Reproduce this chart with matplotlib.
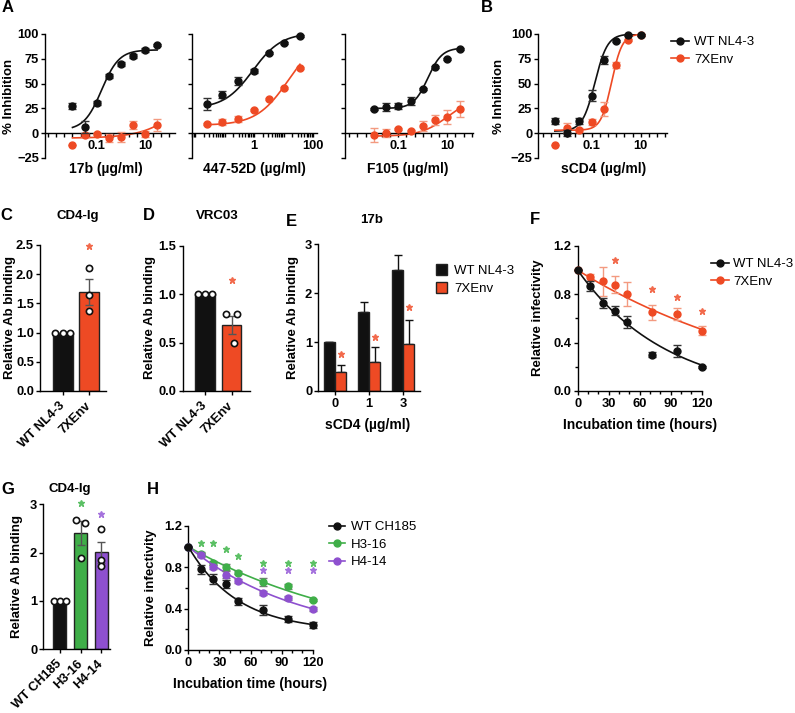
import numpy as np
import matplotlib
matplotlib.use('Agg')
import matplotlib.pyplot as plt
from matplotlib.ticker import FixedLocator, FixedFormatter, MultipleLocator, NullFormatter
from matplotlib.lines import Line2D
from matplotlib.patches import Patch

plt.rcParams['font.family'] = ['Liberation Sans', 'DejaVu Sans']
plt.rcParams['font.weight'] = 'bold'
plt.rcParams['font.size'] = 9.3
plt.rcParams['axes.linewidth'] = 1.0
plt.rcParams['xtick.major.width'] = 1.0
plt.rcParams['ytick.major.width'] = 1.0
plt.rcParams['xtick.minor.width'] = 1.0
plt.rcParams['ytick.minor.width'] = 1.0
plt.rcParams['xtick.major.size'] = 3.2
plt.rcParams['ytick.major.size'] = 3.2
plt.rcParams['xtick.minor.size'] = 2.5
plt.rcParams['ytick.minor.size'] = 2.5
plt.rcParams['xtick.major.pad'] = 2
plt.rcParams['ytick.major.pad'] = 1.2

BLACK = '#111111'
ORANGE = '#EE4A24'
ORANGE_ERR = '#F39A80'
ORANGE_STAR = '#F26A4C'
GREEN = '#3FAE48'
GREEN_STAR = '#5CC065'
PURPLE = '#8E50CF'
PURPLE_STAR = '#A572DD'

# ---- A / B: % inhibition (ug/ml) ----
x_17b = [0.01, 0.0316, 0.1, 0.316, 1, 3.16, 10, 31.6]
wt_17b = [27, 6, 30, 58, 70, 78, 84, 89]
wt_17b_err = [3, 6, 2, 2, 2, 2, 2, 1]
mut_17b = [-12, -2, -1, -5, -4, 8, -1, 8]
mut_17b_err = [0, 2, 1, 4, 5, 4, 3, 6]
fit_wt_17b = (3, 84, 0.16, 1.2)        # bottom, top, EC50, hill
fit_mut_17b = (-5, 100, 1584, 0.5)

x_447 = [0.025, 0.085, 0.28, 1.0, 3.2, 10.5, 36]
wt_447 = [29, 39, 53, 63, 81, 91, 98]
wt_447_err = [6, 4, 4, 2, 1, 1, 1]
mut_447 = [9, 11, 14, 23, 34, 46, 66]
mut_447_err = [1, 3, 3, 1, 1, 1, 1]
fit_wt_447 = (25, 101, 0.9, 0.9)
fit_mut_447 = (8, 100, 15, 0.8)

x_f105 = [0.01, 0.0316, 0.1, 0.316, 1, 3.16, 10, 31.6]
wt_f105 = [24, 26, 27, 32, 45, 67, 75, 85]
wt_f105_err = [1, 4, 3, 4, 1, 1, 1, 1]
mut_f105 = [-2, 0, 4, 2, 7, 13, 16, 24]
mut_f105_err = [7, 4, 1, 1, 5, 5, 7, 8]
fit_wt_f105 = (25, 86, 1.6, 1.5)
fit_mut_f105 = (-3, 36, 10, 0.8)

x_scd4 = [0.00316, 0.01, 0.0316, 0.1, 0.316, 1, 3.16, 10]
wt_scd4 = [12, 0, 12, 38, 74, 93, 99, 99]
wt_scd4_err = [3, 3, 3, 6, 4, 1, 1, 1]
mut_scd4 = [-12, 5, 3, 11, 24, 69, 94, 99]
mut_scd4_err = [0, 5, 2, 3, 7, 3, 1, 1]
fit_wt_scd4 = (2, 100, 0.136, 1.7)
fit_mut_scd4 = (3, 100, 0.65, 2.0)

# ---- C / D: relative Ab binding ----
nl43_groups = ['WT NL4-3', '7XEnv']
cd4ig_mean = [1.0, 1.70]
cd4ig_sem = [0, 0.22]
cd4ig_pts = [[1.0, 1.0, 1.0], [2.11, 1.64, 1.37]]
vrc03_mean = [1.0, 0.68]
vrc03_sem = [0, 0.09]
vrc03_pts = [[1.0, 1.0, 1.0], [0.79, 0.79, 0.50]]

# ---- E: 17b binding vs sCD4 ----
scd4_doses = ['0', '1', '3']
e_wt = [1.0, 1.61, 2.47]
e_wt_err = [0, 0.21, 0.31]
e_mut = [0.38, 0.59, 0.96]
e_mut_err = [0.15, 0.31, 0.49]
e_stars = [0.76, 1.10, 1.72]

# ---- F: infectivity decay NL4-3 ----
hours = [0, 12, 24, 36, 48, 72, 96, 120]
f_wt = [1.0, 0.87, 0.73, 0.665, 0.57, 0.30, 0.33, 0.20]
f_wt_err = [0, 0.04, 0.04, 0.04, 0.05, 0.02, 0.05, 0.01]
f_mut = [1.0, 0.94, 0.91, 0.88, 0.80, 0.65, 0.635, 0.50]
f_mut_err = [0, 0.03, 0.12, 0.07, 0.10, 0.06, 0.05, 0.04]
fit_f_wt = (1.0, -0.05, 0.0115)        # Y0, plateau, K
fit_f_mut = (1.0, -0.12, 0.0048)
f_star_hours = [36, 72, 96, 120]
f_star_y = [1.08, 0.84, 0.78, 0.66]

# ---- G: CD4-Ig binding CH185 ----
ch185_groups = ['WT CH185', 'H3-16', 'H4-14']
g_mean = [1.0, 2.40, 2.01]
g_sem = [0, 0.25, 0.22]
g_pts = [[1.0, 1.0, 1.0], [2.68, 2.62, 1.88], [2.48, 1.85, 1.72]]
g_stars = [None, 3.03, 2.79]

# ---- H: infectivity decay CH185 ----
h_wt = [1.0, 0.78, 0.69, 0.64, 0.47, 0.39, 0.30, 0.24]
h_wt_err = [0, 0.04, 0.05, 0.04, 0.03, 0.05, 0.03, 0.03]
h_316 = [1.0, 0.93, 0.845, 0.80, 0.75, 0.655, 0.615, 0.485]
h_316_err = [0, 0.02, 0.02, 0.03, 0.01, 0.04, 0.02, 0.01]
h_414 = [1.0, 0.92, 0.80, 0.73, 0.67, 0.55, 0.505, 0.40]
h_414_err = [0, 0.02, 0.02, 0.03, 0.02, 0.02, 0.02, 0.02]
fit_h_wt = (1.0, 0.18, 0.021)
fit_h_316 = (1.0, 0.0, 0.0058)
fit_h_414 = (1.0, 0.10, 0.0092)
h_star_green_hours = [12, 24, 36, 48, 72, 96, 120]
h_star_green_y = [1.04, 1.04, 0.975, 0.91, 0.845, 0.845, 0.845]
h_star_purple_hours = [72, 96, 120]
h_star_purple_y = [0.77, 0.77, 0.77]

W, H = 795, 713
fig = plt.figure(figsize=(W / 100, H / 100), dpi=100)


def place(x0, y0, x1, y1):
    return fig.add_axes([x0 / W, 1 - y1 / H, (x1 - x0) / W, (y1 - y0) / H])


def ftext(x, y, s, **kw):
    kw.setdefault('ha', 'center')
    kw.setdefault('va', 'center')
    fig.text(x / W, 1 - y / H, s, **kw)


def hill(x, bottom, top, ec50, slope):
    x = np.asarray(x, float)
    return bottom + (top - bottom) / (1 + (ec50 / x) ** slope)


def decay(t, y0, plateau, k):
    t = np.asarray(t, float)
    return (y0 - plateau) * np.exp(-k * t) + plateau


def clean(ax):
    ax.spines['top'].set_visible(False)
    ax.spines['right'].set_visible(False)
    ax.patch.set_alpha(0)


def stars(ax, x, y, color, ms=5):
    ax.plot(x, y, '*', color=color, ms=ms, clip_on=False, zorder=6)


def dose_panel(ax, x, wt, wt_e, mut, mut_e, fwt, fmut, xlim, majors, minors):
    clean(ax)
    ax.set_xscale('log')
    ax.set_xlim(*xlim)
    ax.set_ylim(-25, 100)
    ax.spines['bottom'].set_position(('data', 0))
    xs = np.logspace(np.log10(x[0]), np.log10(x[-1]), 200)
    ax.plot(xs, hill(xs, *fwt), color=BLACK, lw=1.2, zorder=2)
    ax.plot(xs, hill(xs, *fmut), color=ORANGE, lw=1.2, zorder=2)
    ax.errorbar(x, wt, yerr=wt_e, fmt='o', color=BLACK, ms=5, ecolor='#333333',
                elinewidth=1, capsize=3, zorder=4, clip_on=False)
    ax.errorbar(x, mut, yerr=mut_e, fmt='o', color=ORANGE, ms=5, ecolor=ORANGE_ERR,
                elinewidth=1, capsize=3, zorder=3, clip_on=False)
    ax.xaxis.set_major_locator(FixedLocator(majors))
    ax.xaxis.set_major_formatter(FixedFormatter([('%g' % m) for m in majors]))
    ax.xaxis.set_minor_locator(FixedLocator(minors))
    ax.xaxis.set_minor_formatter(NullFormatter())
    ax.yaxis.set_major_locator(FixedLocator([-25, 0, 25, 50, 75, 100]))
    ax.tick_params(axis='x', which='both', length=3)


third = 10 ** (np.arange(-12, 9) / 3.0)
minor_third = [v for v in third if abs(np.log10(v) + 1) > 0.01 and abs(np.log10(v) - 1) > 0.01]
dec_minor = [d * m for d in [0.001, 0.01, 0.1, 1, 10, 100] for m in range(1, 10)
             if not (d * m in (1, 100))]

# ---- Panel A ----
a1 = place(45, 34, 175, 158)
dose_panel(a1, x_17b, wt_17b, wt_17b_err, mut_17b, mut_17b_err, fit_wt_17b, fit_mut_17b,
           (7.3e-4, 174), [0.1, 10], minor_third)
a2 = place(191.7, 34, 316.7, 158)
dose_panel(a2, x_447, wt_447, wt_447_err, mut_447, mut_447_err, fit_wt_447, fit_mut_447,
           (0.0077, 133), [1, 100], dec_minor)
a2.set_yticklabels([])
a3 = place(345, 34, 473.3, 158)
dose_panel(a3, x_f105, wt_f105, wt_f105_err, mut_f105, mut_f105_err, fit_wt_f105, fit_mut_f105,
           (6.7e-4, 115), [0.1, 10], minor_third)
a3.set_yticklabels([])
b = place(538.3, 34, 666.7, 158)
dose_panel(b, x_scd4, wt_scd4, wt_scd4_err, mut_scd4, mut_scd4_err, fit_wt_scd4, fit_mut_scd4,
           (6.7e-4, 115), [0.1, 10], minor_third)

lab = dict(fontsize=10, fontweight='bold')
ylab = dict(fontsize=9.5, fontweight='bold')
ftext(106, 169, '17b (µg/ml)', **lab)
ftext(254, 169, '447-52D (µg/ml)', **lab)
ftext(408, 169, 'F105 (µg/ml)', **lab)
ftext(604, 169, 'sCD4 (µg/ml)', **lab)
ftext(9, 96, '% Inhibition', rotation=90, **ylab)
ftext(499, 96, '% Inhibition', rotation=90, **ylab)

leg_font = {'weight': 'normal', 'size': 9.5}
line_handles = [Line2D([], [], color=BLACK, marker='o', ms=5, lw=1.2),
                Line2D([], [], color=ORANGE, marker='o', ms=5, lw=1.2)]
b.legend(line_handles, ['WT NL4-3', '7XEnv'], loc='upper left', frameon=False,
         bbox_to_anchor=(671 / W, 1 - 36 / H), bbox_transform=fig.transFigure,
         borderpad=0, borderaxespad=0, handlelength=1.35, handletextpad=0.4,
         labelspacing=0.4, prop=leg_font)


# ---- Bar panels C, D, G ----
def bar_panel(ax, names, means, sems, pts, colors, width, xlim, ylim, yticks, offsets):
    clean(ax)
    pos = np.arange(len(names))
    ax.bar(pos, means, width, color=colors, edgecolor='#222222', lw=1, zorder=2)
    ax.errorbar(pos, means, yerr=sems, fmt='none', ecolor='#555555', elinewidth=1,
                capsize=3, zorder=3)
    for i, p in enumerate(pts):
        ax.plot(i + np.array(offsets[i]), p, 'o', mfc='white', mec=BLACK, ms=4.5, mew=1.2,
                zorder=4, clip_on=False)
    ax.set_xlim(*xlim)
    ax.set_ylim(*ylim)
    ax.set_yticks(yticks)
    ax.set_xticks(pos)
    ax.set_xticklabels(names, rotation=45, ha='right', va='center', rotation_mode='anchor',
                       fontsize=9.3)
    ax.tick_params(axis='x', pad=6)


c = place(40, 245, 106, 391)
bar_panel(c, nl43_groups, cd4ig_mean, cd4ig_sem, cd4ig_pts, [BLACK, ORANGE], 0.75,
          (-0.85, 1.62), (0, 2.5), [0, 0.5, 1.0, 1.5, 2.0, 2.5],
          [[-0.28, 0, 0.28], [0, 0, 0]])
stars(c, [1], [2.49], ORANGE_STAR)
d = place(182.7, 245.7, 250, 391)
bar_panel(d, nl43_groups, vrc03_mean, vrc03_sem, vrc03_pts, [BLACK, ORANGE], 0.72,
          (-0.84, 1.69), (0, 1.5), [0, 0.5, 1.0, 1.5],
          [[-0.28, 0, 0.28], [-0.2, 0.22, 0.08]])
stars(d, [1], [1.15], ORANGE_STAR)

title = dict(fontsize=9.5, fontweight='bold')
letter = dict(fontsize=12, fontweight='bold')
ftext(78, 216, 'CD4-Ig', **title)
ftext(217, 216, 'VRC03', **title)
ftext(10, 318, 'Relative Ab binding', rotation=90, **ylab)
ftext(150, 318, 'Relative Ab binding', rotation=90, **ylab)
ftext(8, 8, 'A', **letter)
ftext(487, 8, 'B', **letter)
ftext(6, 216, 'C', **letter)
ftext(149, 216, 'D', **letter)
ftext(291, 221, 'E', **letter)
ftext(535, 220, 'F', **letter)
ftext(8, 490, 'G', **letter)
ftext(153, 490, 'H', **letter)

# ---- Panel E ----
e = place(318.3, 244.3, 420, 391)
clean(e)
pos = np.arange(len(scd4_doses))
e.bar(pos - 0.165, e_wt, 0.32, color=BLACK, edgecolor='#222222', lw=1, zorder=2)
e.bar(pos + 0.165, e_mut, 0.32, color=ORANGE, edgecolor='#222222', lw=1, zorder=2)
e.errorbar(pos - 0.165, e_wt, yerr=[np.zeros(3), e_wt_err], fmt='none', ecolor=BLACK,
           elinewidth=1, capsize=3, zorder=1)
e.errorbar(pos + 0.165, e_mut, yerr=[np.zeros(3), e_mut_err], fmt='none', ecolor=BLACK,
           elinewidth=1, capsize=3, zorder=1)
stars(e, pos + 0.165, e_stars, ORANGE_STAR)
e.set_xlim(-0.49, 2.49)
e.set_ylim(0, 3)
e.set_yticks([0, 1, 2, 3])
e.set_xticks(pos)
e.set_xticklabels(scd4_doses)
ftext(372, 220, '17b', **title)
ftext(293, 318, 'Relative Ab binding', rotation=90, **ylab)
ftext(368, 425, 'sCD4 (µg/ml)', **lab)
patch_handles = [Patch(facecolor=BLACK, edgecolor='#222222'),
                 Patch(facecolor=ORANGE, edgecolor='#222222')]
e.legend(patch_handles, ['WT NL4-3', '7XEnv'], loc='upper left', frameon=False,
         bbox_to_anchor=(436 / W, 1 - 264 / H), bbox_transform=fig.transFigure,
         borderpad=0, borderaxespad=0, handlelength=0.85, handleheight=0.85,
         handletextpad=0.55, labelspacing=0.4, prop=leg_font)


# ---- Decay panels F, H ----
def decay_panel(ax):
    clean(ax)
    ax.set_xlim(0, 120)
    ax.set_ylim(0, 1.2)
    ax.xaxis.set_major_locator(FixedLocator([0, 30, 60, 90, 120]))
    ax.xaxis.set_minor_locator(MultipleLocator(10))
    ax.yaxis.set_major_locator(FixedLocator([0, 0.4, 0.8, 1.2]))
    ax.yaxis.set_minor_locator(MultipleLocator(0.2))
    ax.yaxis.set_major_formatter(FixedFormatter(['0.0', '0.4', '0.8', '1.2']))


def decay_series(ax, y, err, fit, color, ecolor, z):
    ts = np.linspace(0, 120, 200)
    ax.plot(ts, decay(ts, *fit), color=color, lw=1.2, zorder=z)
    ax.errorbar(hours, y, yerr=err, fmt='o', color=color, ms=5, ecolor=ecolor,
                elinewidth=1, capsize=3, zorder=z + 1, clip_on=False)


f = place(577.7, 246, 701.7, 391)
decay_panel(f)
decay_series(f, f_mut, f_mut_err, fit_f_mut, ORANGE, ORANGE_ERR, 2)
decay_series(f, f_wt, f_wt_err, fit_f_wt, BLACK, '#333333', 4)
stars(f, f_star_hours, f_star_y, ORANGE_STAR)
ftext(538, 318, 'Relative infectivity', rotation=90, **ylab)
ftext(640, 425, 'Incubation time (hours)', **lab)
f.legend(line_handles, ['WT NL4-3', '7XEnv'], loc='upper left', frameon=False,
         bbox_to_anchor=(711 / W, 1 - 258 / H), bbox_transform=fig.transFigure,
         borderpad=0, borderaxespad=0, handlelength=1.35, handletextpad=0.35,
         labelspacing=0.4, prop=leg_font)

g = place(43.3, 504.3, 110, 649.3)
bar_panel(g, ch185_groups, g_mean, g_sem, g_pts, [BLACK, GREEN, PURPLE], 0.63,
          (-0.81, 2.43), (0, 3), [0, 1, 2, 3],
          [[-0.27, 0, 0.27], [-0.21, 0.23, 0], [0, 0, 0]])
stars(g, [1], [g_stars[1]], GREEN_STAR)
stars(g, [2], [g_stars[2]], PURPLE_STAR)
ftext(70, 489, 'CD4-Ig', **title)
ftext(17, 577, 'Relative Ab binding', rotation=90, **ylab)

h = place(188.3, 526, 312.7, 650)
decay_panel(h)
decay_series(h, h_316, h_316_err, fit_h_316, GREEN, '#777777', 2)
decay_series(h, h_414, h_414_err, fit_h_414, PURPLE, '#777777', 4)
decay_series(h, h_wt, h_wt_err, fit_h_wt, BLACK, '#333333', 6)
stars(h, h_star_green_hours, h_star_green_y, GREEN_STAR, ms=4.5)
stars(h, h_star_purple_hours, h_star_purple_y, PURPLE_STAR, ms=4.5)
ftext(151, 588, 'Relative infectivity', rotation=90, **ylab)
ftext(250, 684, 'Incubation time (hours)', **lab)
h_handles = [Line2D([], [], color=c_, marker='o', ms=5, lw=1.2) for c_ in (BLACK, GREEN, PURPLE)]
h.legend(h_handles, ['WT CH185', 'H3-16', 'H4-14'], loc='upper left', frameon=False,
         bbox_to_anchor=(329 / W, 1 - 521 / H), bbox_transform=fig.transFigure,
         borderpad=0, borderaxespad=0, handlelength=1.2, handletextpad=0.45,
         labelspacing=0.4, prop=leg_font)

fig.savefig('out.png', dpi=100)
